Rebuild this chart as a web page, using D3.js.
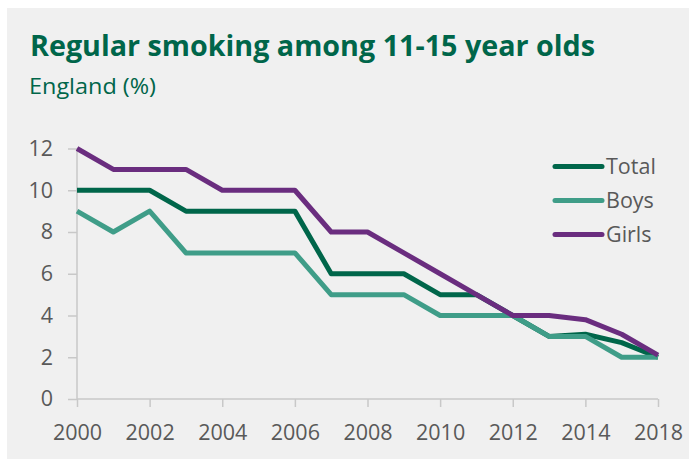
<!DOCTYPE html>
<html><head><meta charset="utf-8">
<script src="https://cdn.jsdelivr.net/npm/d3@7"></script>
<style>
html,body{margin:0;padding:0;background:#fff;}
svg{display:block;}
text{font-family:"Open Sans",sans-serif;}
</style></head>
<body>
<script>
const years = ["2000","2001","2002","2003","2004","2005","2006","2007","2008","2009","2010","2011","2012","2013","2014","2016","2018"];
const totalValues = [10,10,10,9,9,9,9,6,6,6,5,5,4,3,3.1,2.7,2.0];
const boysValues  = [9,8,9,7,7,7,7,5,5,5,4,4,4,3,3.0,2.0,2.0];
const girlsValues = [12,11,11,11,10,10,10,8,8,7,6,5,4,4,3.8,3.1,2.1];
const seriesNames = ["Total","Boys","Girls"];
const seriesColors = ["#00664a","#3f9d88","#6a2d7f"];
const yTicks = [0,2,4,6,8,10,12];
const xTickLabels = ["2000","2002","2004","2006","2008","2010","2012","2014","2018"];
const titleText = "Regular smoking among 11-15 year olds";
const subtitleText = "England (%)";

const W = 689, H = 459;
const svg = d3.select("body").append("svg").attr("width", W).attr("height", H);
svg.append("rect").attr("x",7).attr("y",8).attr("width",W-7).attr("height",H-8).attr("fill","#f0f0f0");

svg.append("text").attr("x",30).attr("y",56).attr("fill","#00664a")
  .attr("font-size",28.5).attr("font-weight",700).attr("textLength",565).attr("lengthAdjust","spacingAndGlyphs").text(titleText);
svg.append("text").attr("x",29).attr("y",94).attr("fill","#00664a")
  .attr("font-size",22.5).attr("textLength",127).attr("lengthAdjust","spacingAndGlyphs").text(subtitleText);

const x = d3.scalePoint().domain(years).range([77,658]);
const y = d3.scaleLinear().domain([0,12]).range([399,148.5]);

// axes
const yAxis = svg.append("g").attr("transform","translate(77,0)")
  .call(d3.axisLeft(y).tickValues(yTicks).tickSize(9).tickPadding(15).tickFormat(d3.format("d")));
const xAxis = svg.append("g").attr("transform","translate(0,399)")
  .call(d3.axisBottom(x).tickValues(xTickLabels).tickSize(8).tickPadding(18));
[yAxis,xAxis].forEach(g=>{
  g.select(".domain").attr("stroke","#c8c8c8").attr("stroke-width",1.5);
  g.selectAll(".tick line").attr("stroke","#c8c8c8").attr("stroke-width",1.5);
  g.selectAll(".tick text").attr("fill","#595959").attr("font-size",21.5).attr("font-family","'Open Sans',sans-serif");
});
yAxis.select(".domain").attr("d","M0,"+y(12)+"V"+y(0));
xAxis.select(".domain").attr("d","M"+x("2000")+",0H"+x("2018"));

const allValues = [totalValues, boysValues, girlsValues];
const line = d3.line().x((d,i)=>x(years[i])).y(d=>y(d));
allValues.forEach((vals,k)=>{
  svg.append("path").datum(vals).attr("d",line).attr("fill","none")
    .attr("stroke",seriesColors[k]).attr("stroke-width",5).attr("stroke-linejoin","round");
});

// legend
const legY = [166.5,200.5,234.5];
seriesNames.forEach((n,k)=>{
  svg.append("line").attr("x1",555).attr("x2",602).attr("y1",legY[k]).attr("y2",legY[k])
    .attr("stroke",seriesColors[k]).attr("stroke-width",5).attr("stroke-linecap","round");
  svg.append("text").attr("x",606).attr("y",legY[k]).attr("dy","0.35em")
    .attr("fill","#595959").attr("font-size",21.5).text(n);
});
</script>
</body></html>
